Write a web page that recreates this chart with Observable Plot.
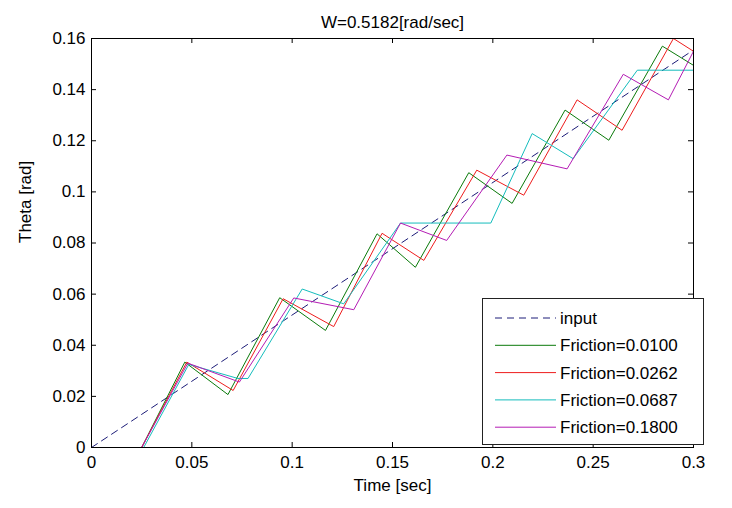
<!DOCTYPE html>
<html><head><meta charset="utf-8">
<script src="https://cdn.jsdelivr.net/npm/d3@7"></script>
<script src="https://cdn.jsdelivr.net/npm/@observablehq/plot@0.6"></script>
<style>
body{margin:0;background:#fff;}
#wrap{position:relative;width:732px;height:508px;}
#legend{position:absolute;left:482px;top:298px;}
</style></head><body>
<div id="wrap"></div>
<script>
const title = "W=0.5182[rad/sec]";
const xLabel = "Time [sec]";
const yLabel = "Theta [rad]";
const xTicks = [0, 0.05, 0.1, 0.15, 0.2, 0.25, 0.3];
const yTicks = [0, 0.02, 0.04, 0.06, 0.08, 0.1, 0.12, 0.14, 0.16];

const inputName = "input";
const inputT = [0, 0.3];
const inputY = [0, 0.1555];

const seriesNames = ["Friction=0.0100", "Friction=0.0262", "Friction=0.0687", "Friction=0.1800"];
const seriesColors = ["#0a7a0a", "#ee1c1c", "#14bcbc", "#b41cb4"];
const inputColor = "#1c1c78";

const f1T = [0, 0.025, 0.0465, 0.068, 0.0938, 0.1166, 0.1423, 0.1614, 0.188, 0.2096, 0.236, 0.2578, 0.2845, 0.3];
const f1Y = [0, 0, 0.0334, 0.0207, 0.0586, 0.0458, 0.0836, 0.0705, 0.1075, 0.0955, 0.132, 0.1202, 0.157, 0.1495];
const f2T = [0, 0.025, 0.0475, 0.0706, 0.0955, 0.1207, 0.1448, 0.1656, 0.192, 0.2154, 0.242, 0.2644, 0.290, 0.3];
const f2Y = [0, 0, 0.0334, 0.0223, 0.0582, 0.0473, 0.0838, 0.0732, 0.1085, 0.0987, 0.136, 0.1241, 0.160, 0.155];
const f3T = [0, 0.026, 0.0485, 0.073, 0.078, 0.105, 0.1257, 0.154, 0.199, 0.2196, 0.240, 0.272, 0.3];
const f3Y = [0, 0, 0.0325, 0.027, 0.027, 0.062, 0.0562, 0.0878, 0.0878, 0.1228, 0.113, 0.1476, 0.1476];
const f4T = [0, 0.025, 0.048, 0.0737, 0.1008, 0.1307, 0.154, 0.177, 0.207, 0.237, 0.265, 0.2875, 0.3];
const f4Y = [0, 0, 0.033, 0.0256, 0.0585, 0.0539, 0.0878, 0.081, 0.1144, 0.109, 0.146, 0.136, 0.155];

const seriesT = [f1T, f2T, f3T, f4T];
const seriesY = [f1Y, f2Y, f3Y, f4Y];

const inputRows = inputT.map((t, i) => ({t, y: inputY[i]}));
const rows = seriesNames.flatMap((s, k) => seriesT[k].map((t, i) => ({t, y: seriesY[k][i], s})));

const W = 732, H = 508, mL = 91, mR = 39, mT = 38, mB = 61;
const fw = W - mL - mR, fh = H - mT - mB;
const font = "'Liberation Sans', Arial, Helvetica, sans-serif";

const chart = Plot.plot({
  width: W, height: H,
  marginLeft: mL, marginRight: mR, marginTop: mT, marginBottom: mB,
  style: {fontFamily: font, fontSize: "17px", background: "white", color: "black"},
  x: {domain: [0, 0.3]},
  y: {domain: [0, 0.16]},
  color: {domain: seriesNames, range: seriesColors},
  marks: [
    Plot.line(inputRows, {x: "t", y: "y", stroke: inputColor, strokeDasharray: "7,5", strokeWidth: 1}),
    Plot.line(rows, {x: "t", y: "y", z: "s", stroke: "s", strokeWidth: 1}),
    Plot.axisX({ticks: xTicks, tickSize: 0, tickPadding: 8, tickFormat: d => String(d), label: null}),
    Plot.axisY({ticks: yTicks, tickSize: 0, tickPadding: 6, tickFormat: d => String(d), label: null}),
    Plot.ruleX(xTicks, {x: d => d, insetTop: fh - 5, stroke: "black"}),
    Plot.ruleX(xTicks, {x: d => d, insetBottom: fh - 5, stroke: "black"}),
    Plot.ruleY(yTicks, {y: d => d, insetRight: fw - 5, stroke: "black"}),
    Plot.ruleY(yTicks, {y: d => d, insetLeft: fw - 5, stroke: "black"}),
    Plot.frame({stroke: "black"}),
    Plot.text([title], {frameAnchor: "top", dy: -23, fontSize: 17}),
    Plot.text([xLabel], {frameAnchor: "bottom", dy: 43, fontSize: 17}),
    Plot.text([yLabel], {frameAnchor: "left", rotate: -90, dx: -66, fontSize: 17})
  ]
});
const wrap = document.getElementById("wrap");
wrap.appendChild(chart);

// legend overlay
const legNames = [inputName, ...seriesNames];
const legColors = [inputColor, ...seriesColors];
const leg = d3.create("svg").attr("id", "legend").attr("width", 222).attr("height", 147)
  .style("font-family", font).style("font-size", "17px");
leg.append("rect").attr("x", 0.5).attr("y", 0.5).attr("width", 221).attr("height", 146)
  .attr("fill", "white").attr("stroke", "#222");
legNames.forEach((n, i) => {
  const yy = 20 + i * 27.3;
  leg.append("line").attr("x1", 13).attr("x2", 74).attr("y1", yy).attr("y2", yy)
    .attr("stroke", legColors[i]).attr("stroke-width", 1)
    .attr("stroke-dasharray", i === 0 ? "7,5" : null);
  leg.append("text").attr("x", 78).attr("y", yy).attr("dy", "0.35em").text(n);
});
wrap.appendChild(leg.node());
</script>
</body></html>
